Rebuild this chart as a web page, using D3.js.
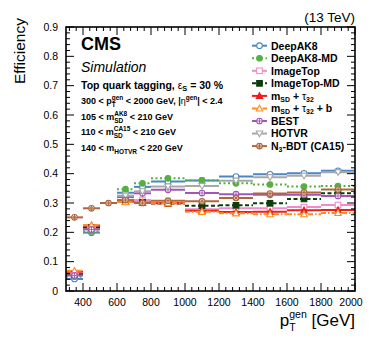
<!DOCTYPE html>
<html>
<head>
<meta charset="utf-8">
<script src="https://cdn.jsdelivr.net/npm/d3@7"></script>
<style>
  body { margin: 0; background: #fff; }
  svg text { font-family: "Liberation Sans", Arial, Helvetica, sans-serif; white-space: pre; }
</style>
</head>
<body>
<div id="chart"></div>
<script>
// bins in pT (GeV)
var binLo = [300, 400, 500, 600, 700, 800, 1000, 1200, 1400, 1600, 1800];
var binHi = [400, 500, 600, 700, 800, 1000, 1200, 1400, 1600, 1800, 2000];

// efficiencies per bin (null = no point)
var deepAK8    = [0.041, 0.199, null, 0.335, 0.355, 0.373, 0.377, 0.390, 0.398, 0.401, 0.410];
var deepAK8MD  = [0.049, 0.203, null, 0.347, 0.367, 0.384, 0.377, 0.367, 0.363, 0.356, 0.358];
var imageTop   = [0.060, 0.214, null, 0.305, 0.310, 0.300, 0.279, 0.282, 0.282, 0.286, 0.293];
var imageTopMD = [0.057, 0.217, null, 0.308, 0.302, 0.298, 0.291, 0.292, 0.299, 0.314, 0.333];
var msdTau     = [0.066, 0.223, null, 0.305, 0.301, 0.299, 0.274, 0.269, 0.270, 0.275, 0.276];
var msdTauB    = [0.069, 0.224, null, 0.303, 0.303, 0.299, 0.270, 0.265, 0.262, 0.262, 0.266];
var best       = [0.053, 0.210, null, 0.320, 0.333, 0.345, 0.334, 0.330, 0.328, 0.328, 0.324];
var hotvr      = [null, null, null, 0.325, 0.340, 0.356, 0.358, 0.376, 0.388, 0.393, 0.405];
var n3bdt      = [0.251, 0.282, 0.300, 0.310, 0.300, 0.308, 0.306, 0.317, 0.332, 0.336, 0.346];

var yTicks = [0, 0.1, 0.2, 0.3, 0.4, 0.5, 0.6, 0.7, 0.8, 0.9];
var xTicks = [400, 600, 800, 1000, 1200, 1400, 1600, 1800, 2000];

var series = [
  {name: [{t: "DeepAK8"}], values: deepAK8, color: "#4a86c5", marker: "circleOpen", dash: null},
  {name: [{t: "DeepAK8-MD"}], values: deepAK8MD, color: "#55b040", marker: "circleFilled", dash: "2,2.5"},
  {name: [{t: "ImageTop"}], values: imageTop, color: "#f08cc8", marker: "squareOpen", dash: null},
  {name: [{t: "ImageTop-MD"}], values: imageTopMD, color: "#0b3d0b", marker: "squareFilled", dash: "4,2.5"},
  {name: [{t: "m"}, {sub: "SD"}, {t: " + "}, {t: "τ", greek: true}, {sub: "32"}], values: msdTau, color: "#ee1c1c", marker: "triUpFilled", dash: null},
  {name: [{t: "m"}, {sub: "SD"}, {t: " + "}, {t: "τ", greek: true}, {sub: "32"}, {t: " + b"}], values: msdTauB, color: "#ff8c1e", marker: "triUpOpen", dash: "5,2,1.5,2"},
  {name: [{t: "BEST"}], values: best, color: "#a256b8", marker: "circleCross", dash: null},
  {name: [{t: "HOTVR"}], values: hotvr, color: "#a8a8a8", marker: "triDownOpen", dash: null},
  {name: [{t: "N"}, {sub: "3"}, {t: "-BDT (CA15)"}], values: n3bdt, color: "#b0663c", marker: "circleStar", dash: null}
];

var W = 374, H = 343;
var frame = {left: 66, right: 355, top: 27, bottom: 291};

var svg = d3.select("#chart").append("svg")
  .attr("width", W).attr("height", H);

var x = d3.scaleLinear().domain([300, 2000]).range([frame.left, frame.right]);
var y = d3.scaleLinear().domain([0, 0.9]).range([frame.bottom, frame.top]);

// rich text: segments with sub/sup placed one after another
function richText(g, x0, y0, segs, size, weight, scr, subOff) {
  scr = scr || 0.7;
  subOff = subOff || 0.28;
  var cx = x0;
  segs.forEach(function(s) {
    if (s.t !== undefined) {
      var t = g.append("text").attr("x", cx).attr("y", y0)
        .style("font-size", size + "px").style("font-weight", s.greek ? "normal" : weight)
        .text(s.t);
      cx += t.node().getComputedTextLength();
    } else {
      var w = 0;
      if (s.sup) {
        var a = g.append("text").attr("x", cx).attr("y", y0 - size * 0.45)
          .style("font-size", (size * scr) + "px").style("font-weight", weight).text(s.sup);
        w = Math.max(w, a.node().getComputedTextLength());
      }
      if (s.sub) {
        var b = g.append("text").attr("x", cx).attr("y", y0 + size * subOff)
          .style("font-size", (size * scr) + "px").style("font-weight", weight).text(s.sub);
        w = Math.max(w, b.node().getComputedTextLength());
      }
      cx += w;
    }
  });
  return cx - x0;
}

function drawMarker(g, cx, cy, type, color) {
  var r = 2.8;
  if (type == "circleOpen" || type == "circleFilled" || type == "circleCross" || type == "circleStar") {
    g.append("circle").attr("cx", cx).attr("cy", cy).attr("r", r)
      .attr("fill", type == "circleFilled" ? color : "#fff")
      .attr("stroke", color).attr("stroke-width", 1.1);
    if (type == "circleCross" || type == "circleStar") {
      g.append("path")
        .attr("d", "M" + (cx - r) + "," + cy + "H" + (cx + r) + "M" + cx + "," + (cy - r) + "V" + (cy + r))
        .attr("stroke", color).attr("stroke-width", 0.9);
    }
    if (type == "circleStar") {
      var d = r * 0.7;
      g.append("path")
        .attr("d", "M" + (cx - d) + "," + (cy - d) + "L" + (cx + d) + "," + (cy + d) + "M" + (cx + d) + "," + (cy - d) + "L" + (cx - d) + "," + (cy + d))
        .attr("stroke", color).attr("stroke-width", 0.9);
    }
  } else if (type == "squareOpen" || type == "squareFilled") {
    g.append("rect").attr("x", cx - r).attr("y", cy - r).attr("width", 2 * r).attr("height", 2 * r)
      .attr("fill", type == "squareFilled" ? color : "#fff")
      .attr("stroke", color).attr("stroke-width", 1.1);
  } else if (type == "triUpFilled" || type == "triUpOpen") {
    var s = r * 1.15;
    g.append("path")
      .attr("d", "M" + cx + "," + (cy - s) + "L" + (cx + s) + "," + (cy + s * 0.8) + "L" + (cx - s) + "," + (cy + s * 0.8) + "Z")
      .attr("fill", type == "triUpFilled" ? color : "#fff")
      .attr("stroke", color).attr("stroke-width", 1.1);
  } else if (type == "triDownOpen") {
    var s2 = r * 1.15;
    g.append("path")
      .attr("d", "M" + cx + "," + (cy + s2) + "L" + (cx + s2) + "," + (cy - s2 * 0.8) + "L" + (cx - s2) + "," + (cy - s2 * 0.8) + "Z")
      .attr("fill", "#fff").attr("stroke", color).attr("stroke-width", 1.1);
  }
}

// data
var plot = svg.append("g");
series.forEach(function(s) {
  var g = plot.append("g");
  s.values.forEach(function(v, i) {
    if (v === null) return;
    g.append("line")
      .attr("x1", x(binLo[i])).attr("x2", x(binHi[i]))
      .attr("y1", y(v)).attr("y2", y(v))
      .attr("stroke", s.color).attr("stroke-width", 2)
      .attr("stroke-dasharray", s.dash);
  });
  s.values.forEach(function(v, i) {
    if (v === null) return;
    drawMarker(g, x((binLo[i] + binHi[i]) / 2), y(v), s.marker, s.color);
  });
});

// frame and ticks (ROOT style, inside, all four sides)
var axes = svg.append("g");
var xMinor = d3.range(320, 2001, 40);
xMinor.forEach(function(v) {
  var major = (v % 200 == 0);
  var len = major ? 8 : 4;
  axes.append("line").attr("x1", x(v)).attr("x2", x(v)).attr("y1", frame.bottom).attr("y2", frame.bottom - len)
    .attr("stroke", "#000").attr("stroke-width", 1);
  axes.append("line").attr("x1", x(v)).attr("x2", x(v)).attr("y1", frame.top).attr("y2", frame.top + len)
    .attr("stroke", "#000").attr("stroke-width", 1);
});
var yMinor = d3.range(0, 0.9001, 0.02);
yMinor.forEach(function(v, i) {
  var len = (i % 5 == 0) ? 8 : 4;
  axes.append("line").attr("x1", frame.left).attr("x2", frame.left + len).attr("y1", y(v)).attr("y2", y(v))
    .attr("stroke", "#000").attr("stroke-width", 1);
  axes.append("line").attr("x1", frame.right).attr("x2", frame.right - len).attr("y1", y(v)).attr("y2", y(v))
    .attr("stroke", "#000").attr("stroke-width", 1);
});
axes.append("rect")
  .attr("x", frame.left).attr("y", frame.top)
  .attr("width", frame.right - frame.left).attr("height", frame.bottom - frame.top)
  .attr("fill", "none").attr("stroke", "#000").attr("stroke-width", 1.6);

xTicks.forEach(function(v) {
  axes.append("text").attr("x", v == 2000 ? x(v) - 4 : x(v)).attr("y", 306)
    .attr("text-anchor", "middle").style("font-size", "10.5px").text(v);
});
yTicks.forEach(function(v) {
  axes.append("text").attr("x", 58).attr("y", y(v) + 3.8)
    .attr("text-anchor", "end").style("font-size", "10.5px").text(v == 0 ? "0" : d3.format(".1f")(v));
});

// axis titles
svg.append("text")
  .attr("transform", "translate(25,18)rotate(-90)")
  .attr("text-anchor", "end").style("font-size", "15.5px").text("Efficiency");

var xt = svg.append("g");
var wt = richText(xt, 0, 326, [{t: "p"}, {sup: "gen", sub: "T"}, {t: " [GeV]"}], 17, "normal", 0.62);
xt.attr("transform", "translate(" + (frame.right - wt) + ",0)");

// header texts
svg.append("text").attr("x", frame.right).attr("y", 22).attr("text-anchor", "end")
  .style("font-size", "13.5px").text("(13 TeV)");
svg.append("text").attr("x", 81).attr("y", 50)
  .style("font-size", "18px").style("font-weight", "bold").text("CMS");
svg.append("text").attr("x", 81).attr("y", 71.5)
  .style("font-size", "14px").style("font-style", "italic").text("Simulation");

var info = svg.append("g");
richText(info, 81, 88.5, [{t: "Top quark tagging, "}, {t: "ε", greek: true}, {sub: "S"}, {t: " = 30 %"}], 10.5, "bold");
richText(info, 81, 104, [{t: "300 < p"}, {sup: "gen", sub: "T"}, {t: " < 2000 GeV, |"}, {t: "η", greek: true}, {sup: "gen"}, {t: "| < 2.4"}], 9, "bold", 0.72);
richText(info, 81, 120, [{t: "105 < m"}, {sup: "AK8", sub: "SD"}, {t: " < 210 GeV"}], 9, "bold", 0.72);
richText(info, 81, 135, [{t: "110 < m"}, {sup: "CA15", sub: "SD"}, {t: " < 210 GeV"}], 9, "bold", 0.72);
richText(info, 81, 151, [{t: "140 < m"}, {sub: "HOTVR"}, {t: " < 220 GeV"}], 9, "bold", 0.72);

// legend
var legend = svg.append("g");
series.forEach(function(s, i) {
  var ly = 45.7 + i * 12.55;
  legend.append("line").attr("x1", 252).attr("x2", 267).attr("y1", ly).attr("y2", ly)
    .attr("stroke", s.color).attr("stroke-width", 2).attr("stroke-dasharray", s.dash);
  drawMarker(legend, 259.5, ly, s.marker, s.color);
  richText(legend, 271, ly + 3.8, s.name, 10.5, "bold", 0.66, 0.18);
});
</script>
</body>
</html>
